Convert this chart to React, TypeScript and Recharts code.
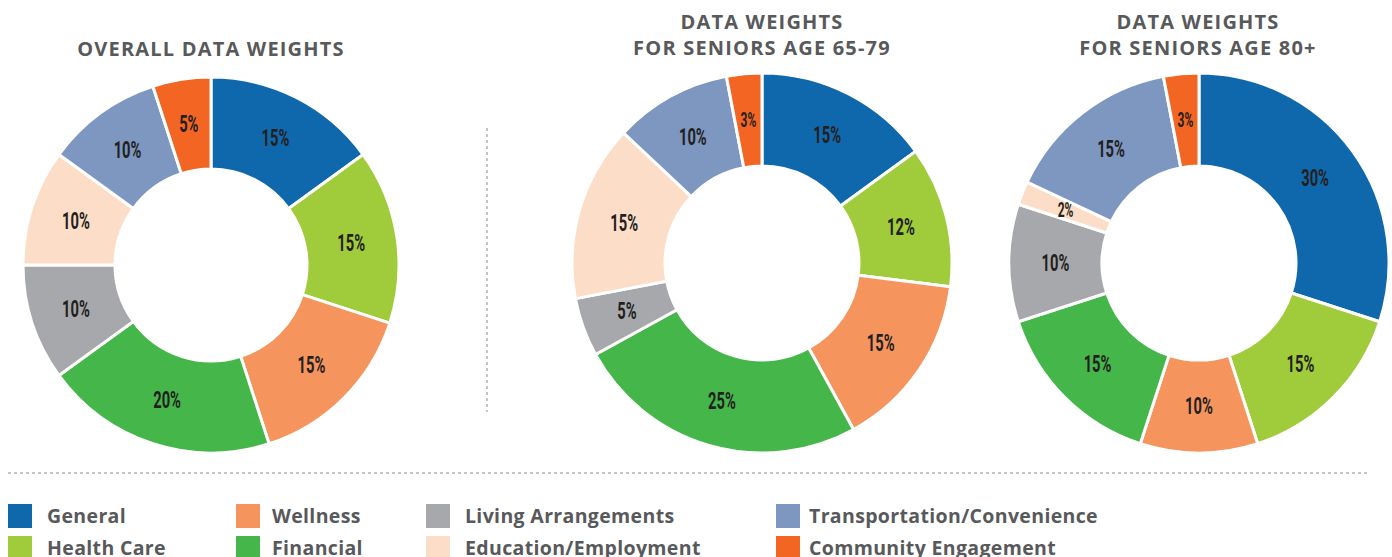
import { PieChart, Pie, Cell } from 'recharts'

const categories = [
  'General',
  'Health Care',
  'Wellness',
  'Financial',
  'Living Arrangements',
  'Education/Employment',
  'Transportation/Convenience',
  'Community Engagement',
]

const colors = ['#1068AC', '#A0CB3A', '#F5955D', '#45B649', '#A7A8AB', '#FCDDC7', '#7D97C1', '#F26522']

const overallWeights = [15, 15, 15, 20, 10, 10, 10, 5]
const seniors6579Weights = [15, 12, 15, 25, 5, 15, 10, 3]
const seniors80Weights = [30, 15, 10, 15, 10, 2, 15, 3]

const chartTitles = [
  ['OVERALL DATA WEIGHTS'],
  ['DATA WEIGHTS', 'FOR SENIORS AGE 65-79'],
  ['DATA WEIGHTS', 'FOR SENIORS AGE 80+'],
]

// legend is laid out in 4 columns, 2 rows (column-major)
const legendColumns = [
  ['General', 'Health Care'],
  ['Wellness', 'Financial'],
  ['Living Arrangements', 'Education/Employment'],
  ['Transportation/Convenience', 'Community Engagement'],
]

const TEXT_GRAY = '#58595B'
const LABEL_FONT = 'Roboto, "DejaVu Sans", sans-serif'
const TITLE_FONT = '"Open Sans", Lato, sans-serif'

const SIZE = 400
const RADIAN = Math.PI / 180

function toData(values: number[]) {
  return categories.map((name, i) => ({ name, value: values[i] }))
}

function renderLabel(props: any) {
  const { cx, cy, midAngle, innerRadius, outerRadius, value } = props
  const r = (innerRadius + outerRadius) / 2
  const x = cx + r * Math.cos(-midAngle * RADIAN)
  const y = cy + r * Math.sin(-midAngle * RADIAN)
  const small = value < 5
  // condensed look: squeeze horizontally
  return (
    <text
      transform={`translate(${x},${y}) scale(${small ? 0.6 : 0.64},1)`}
      fill="#231F20"
      textAnchor="middle"
      dominantBaseline="central"
      fontFamily={LABEL_FONT}
      fontWeight="bold"
      fontSize={small ? 20 : 23}
    >
      {value}%
    </text>
  )
}

function Donut({ values, cx, cy, inner, outer }: { values: number[]; cx: number; cy: number; inner: number; outer: number }) {
  return (
    <div style={{ position: 'absolute', left: cx - SIZE / 2, top: cy - SIZE / 2 }}>
      <PieChart width={SIZE} height={SIZE}>
        <Pie
          data={toData(values)}
          dataKey="value"
          cx="50%"
          cy="50%"
          startAngle={90}
          endAngle={-270}
          innerRadius={inner}
          outerRadius={outer}
          stroke="#fff"
          strokeWidth={3}
          label={renderLabel}
          labelLine={false}
          isAnimationActive={false}
        >
          {values.map((_, i) => (
            <Cell key={i} fill={colors[i]} />
          ))}
        </Pie>
      </PieChart>
    </div>
  )
}

function Title({ lines, centerX, top }: { lines: string[]; centerX: number; top: number }) {
  return (
    <div
      style={{
        position: 'absolute',
        left: centerX - 200,
        top,
        width: 400,
        textAlign: 'center',
        fontFamily: TITLE_FONT,
        fontWeight: 'bold',
        fontSize: 20,
        lineHeight: '26px',
        color: TEXT_GRAY,
        letterSpacing: 1.2,
      }}
    >
      {lines.map((l) => (
        <div key={l}>{l}</div>
      ))}
    </div>
  )
}

const swatchX = [8, 236, 426, 776]
const legendTextX = [47, 272, 465, 809]

export default function App() {
  return (
    <div style={{ position: 'absolute', left: 0, top: 0, width: 1392, height: 557, background: '#fff', overflow: 'hidden' }}>
      <Title lines={chartTitles[0]} centerX={211} top={36} />
      <Title lines={chartTitles[1]} centerX={762} top={9} />
      <Title lines={chartTitles[2]} centerX={1198} top={9} />

      <Donut values={overallWeights} cx={211} cy={265} inner={96} outer={188} />
      <Donut values={seniors6579Weights} cx={762} cy={263} inner={97} outer={190} />
      <Donut values={seniors80Weights} cx={1199} cy={263} inner={97} outer={190} />

      <svg width={1392} height={557} style={{ position: 'absolute', left: 0, top: 0, pointerEvents: 'none' }}>
        <line x1={487} y1={128} x2={487} y2={412} stroke="#8A8B8D" strokeWidth={1} strokeDasharray="3 3" />
        <line x1={8} y1={473} x2={1370} y2={473} stroke="#8A8B8D" strokeWidth={1} strokeDasharray="3 3" />
      </svg>

      {legendColumns.map((col, ci) =>
        col.map((name, ri) => {
          const idx = categories.indexOf(name)
          const top = 504 + ri * 32
          return (
            <div key={name}>
              <div style={{ position: 'absolute', left: swatchX[ci], top, width: 24, height: 24, background: colors[idx] }} />
              <div
                style={{
                  position: 'absolute',
                  left: legendTextX[ci],
                  top,
                  height: 24,
                  lineHeight: '24px',
                  fontFamily: TITLE_FONT,
                  fontWeight: 'bold',
                  fontSize: 19.5,
                  letterSpacing: 0.35,
                  color: TEXT_GRAY,
                  whiteSpace: 'nowrap',
                }}
              >
                {name}
              </div>
            </div>
          )
        })
      )}
    </div>
  )
}
